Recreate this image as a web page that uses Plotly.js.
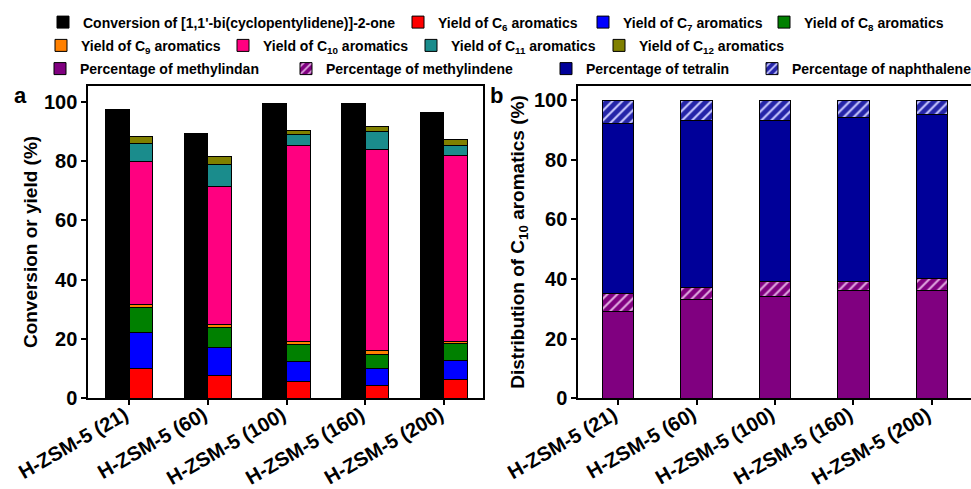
<!DOCTYPE html>
<html>
<head>
<meta charset="utf-8">
<script src="https://cdn.plot.ly/plotly-3.0.1.min.js"></script>
<style>
html,body{margin:0;padding:0;background:#fff;}
#chart{width:971px;height:489px;}
</style>
</head>
<body>
<div id="chart"></div>
<script>
const categories = ['H-ZSM-5 (21)', 'H-ZSM-5 (60)', 'H-ZSM-5 (100)', 'H-ZSM-5 (160)', 'H-ZSM-5 (200)'];
const conversion = [97.4, 89.3, 99.3, 99.3, 96.3];
const yieldC6 = [9.9, 7.8, 5.8, 4.4, 6.4];
const yieldC7 = [12.4, 9.4, 6.6, 5.7, 6.4];
const yieldC8 = [8.4, 6.8, 5.8, 4.7, 5.8];
const yieldC9 = [0.9, 1.0, 1.0, 1.3, 0.6];
const yieldC10 = [48.3, 46.5, 66.0, 67.9, 62.6];
const yieldC11 = [6.0, 7.5, 3.8, 5.8, 3.6];
const yieldC12 = [2.5, 2.4, 1.4, 1.7, 1.8];
const methylindan = [29, 33, 34, 36, 36];
const methylindene = [6, 4, 5, 3, 4];
const tetralin = [57, 56, 54, 55, 55];
const naphthalene = [8, 7, 7, 6, 5];
const yTicks = [0, 20, 40, 60, 80, 100];

const FONT = 'Liberation Sans, Arial, sans-serif';
const W = 971, H = 489;
const line = {color: '#000', width: 1};

// legend slots: [text start x px, row center y px]
const slots = {
  legend:   [83, 22.5], legend2: [438, 22.5], legend3: [623, 22.5], legend4: [804, 22.5],
  legend5:  [81, 45.8], legend6: [263, 45.8], legend7: [451, 45.8], legend8: [639, 45.8],
  legend9:  [80, 69],   legend10: [326, 69],  legend11: [586, 69],  legend12: [792, 69]
};

function sbar(name, y, color, leg, extra) {
  return Object.assign({
    type: 'bar', name: name, x: categories, y: y, width: 0.3, offset: 0,
    xaxis: 'x', yaxis: 'y', legend: leg,
    marker: {color: color, line: line}
  }, extra || {});
}

const traces = [
  {type: 'bar', name: 'Conversion of [1,1\'-bi(cyclopentylidene)]-2-one', x: categories, y: conversion,
   width: 0.3, offset: -0.3, xaxis: 'x3', yaxis: 'y', legend: 'legend',
   marker: {color: '#000000', line: line}},
  sbar('Yield of C<sub>6</sub> aromatics', yieldC6, '#FF0000', 'legend2'),
  sbar('Yield of C<sub>7</sub> aromatics', yieldC7, '#0000FF', 'legend3'),
  sbar('Yield of C<sub>8</sub> aromatics', yieldC8, '#008000', 'legend4'),
  sbar('Yield of C<sub>9</sub> aromatics', yieldC9, '#FF8000', 'legend5'),
  sbar('Yield of C<sub>10</sub> aromatics', yieldC10, '#FF0080', 'legend6'),
  sbar('Yield of C<sub>11</sub> aromatics', yieldC11, '#1A8C8C', 'legend7'),
  sbar('Yield of C<sub>12</sub> aromatics', yieldC12, '#808000', 'legend8'),
  {type: 'bar', name: 'Percentage of methylindan', x: categories, y: methylindan, width: 0.4,
   xaxis: 'x2', yaxis: 'y2', legend: 'legend9', marker: {color: '#800080', line: line}},
  {type: 'bar', name: 'Percentage of methylindene', x: categories, y: methylindene, width: 0.4,
   xaxis: 'x2', yaxis: 'y2', legend: 'legend10',
   marker: {color: '#800080', line: line,
            pattern: {shape: '/', fgcolor: '#E0A8E0', bgcolor: '#800080', size: 7, solidity: 0.3, fillmode: 'replace'}}},
  {type: 'bar', name: 'Percentage of tetralin', x: categories, y: tetralin, width: 0.4,
   xaxis: 'x2', yaxis: 'y2', legend: 'legend11', marker: {color: '#000099', line: line}},
  {type: 'bar', name: 'Percentage of naphthalene', x: categories, y: naphthalene, width: 0.4,
   xaxis: 'x2', yaxis: 'y2', legend: 'legend12',
   marker: {color: '#2424A8', line: line,
            pattern: {shape: '/', fgcolor: '#C8C8FF', bgcolor: '#2424A8', size: 7, solidity: 0.3, fillmode: 'replace'}}}
];

const tickFont = {family: FONT, size: 20, color: '#000', weight: 'bold'};
function xax(domain, range) {
  return {domain: domain, range: range, type: 'category', categoryorder: 'array', categoryarray: categories,
    showline: true, linewidth: 2, linecolor: '#000', mirror: true, showgrid: false, zeroline: false,
    ticks: 'outside', ticklen: 5, tickwidth: 2, tickcolor: '#000', showticklabels: false,
    fixedrange: true};
}
function yax(domain, range, anchor, title, standoff) {
  return {domain: domain, range: range, anchor: anchor, tickvals: yTicks,
    showline: true, linewidth: 2, linecolor: '#000', mirror: true, showgrid: false, zeroline: false,
    ticks: 'outside', ticklen: 5, tickwidth: 2, tickcolor: '#000', tickfont: tickFont,
    title: {text: title, font: {family: FONT, size: 19, color: '#000', weight: 'bold'}, standoff: standoff},
    fixedrange: true};
}

const yDom = [1 - 398.3 / H, 1 - 85.7 / H];
const annotations = [
  {text: 'a', xref: 'paper', yref: 'paper', x: 12 / W, y: 1 - 95 / H, showarrow: false,
   xanchor: 'left', yanchor: 'middle',
   font: {family: FONT, size: 22, color: '#000', weight: 'bold'}},
  {text: 'b', xref: 'paper', yref: 'paper', x: 488 / W, y: 1 - 95 / H, showarrow: false,
   xanchor: 'left', yanchor: 'middle',
   font: {family: FONT, size: 22, color: '#000', weight: 'bold'}}
];
// category labels under both panels, rotated like the reference
['x', 'x2'].forEach(function (xr) {
  categories.forEach(function (c) {
    annotations.push({text: c, xref: xr, yref: 'paper', x: c, y: 1 - 400 / H,
      xanchor: 'right', yanchor: 'top', xshift: 5, textangle: -30, showarrow: false,
      font: {family: FONT, size: 20, color: '#000', weight: 'bold'}});
  });
});

const layout = {
  width: W, height: H,
  margin: {l: 0, r: 0, t: 0, b: 0, autoexpand: false},
  paper_bgcolor: '#fff', plot_bgcolor: '#fff',
  barmode: 'stack', showlegend: true,
  font: {family: FONT, color: '#000'},
  xaxis: xax([88.3 / W, 483.3 / W], [-0.52, 4.5]),
  xaxis3: Object.assign(xax([88.3 / W, 483.3 / W], [-0.52, 4.5]), {overlaying: 'x', visible: false, anchor: 'y'}),
  yaxis: yax(yDom, [0, 105.4], 'x', 'Conversion or yield (%)', 1),
  xaxis2: Object.assign(xax([578.3 / W, 1.0], [-0.51, 4.5]), {anchor: 'y2'}),
  yaxis2: yax(yDom, [0, 104.8], 'x2', 'Distribution of C<sub>10</sub> aromatics (%)', 4),
  annotations: annotations
};

Object.keys(slots).forEach(function (k) {
  const s = slots[k];
  layout[k] = {x: (s[0] - 40) / W, y: 1 - s[1] / H, xanchor: 'left', yanchor: 'middle',
    xref: 'paper', yref: 'paper', orientation: 'h', bgcolor: 'rgba(0,0,0,0)', borderwidth: 0,
    font: {family: FONT, size: 14, color: '#000', weight: 'bold'}, traceorder: 'normal'};
});

Plotly.newPlot('chart', traces, layout, {displayModeBar: false, staticPlot: true});
</script>
</body>
</html>
